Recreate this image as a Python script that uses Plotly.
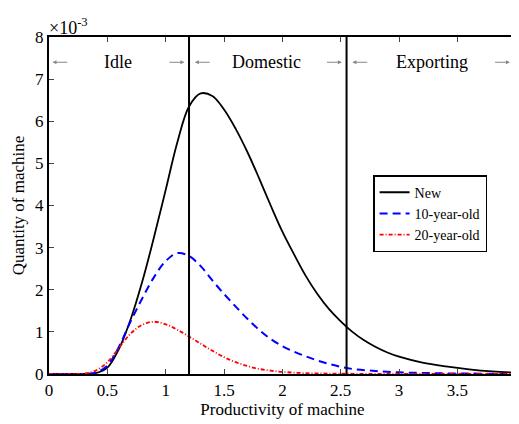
import plotly.graph_objects as go

# Productivity grid and densities (units of 1e-3)
x_new = [0, 0.2, 0.3, 0.4, 0.5, 0.6, 0.7, 0.8, 0.9, 1.0, 1.1, 1.2, 1.3, 1.4, 1.5, 1.6, 1.7, 1.8, 1.9,
         2.0, 2.1, 2.2, 2.3, 2.4, 2.5, 2.6, 2.7, 2.8, 2.9, 3.0, 3.2, 3.4, 3.6, 3.8, 4.0]
y_new = [0, 0, 0, 0.02, 0.15, 0.6, 1.3, 2.2, 3.25, 4.37, 5.5, 6.35, 6.66, 6.6, 6.28, 5.82, 5.27, 4.65, 4.0,
         3.38, 2.84, 2.33, 1.9, 1.54, 1.25, 1.0, 0.8, 0.64, 0.51, 0.41, 0.27, 0.18, 0.11, 0.06, 0.03]

x_10 = [0, 0.2, 0.3, 0.4, 0.5, 0.6, 0.7, 0.8, 0.9, 1.0, 1.1, 1.2, 1.3, 1.4, 1.5, 1.6, 1.7, 1.8, 1.9, 2.0,
        2.1, 2.2, 2.3, 2.4, 2.5, 2.6, 2.8, 3.0, 3.2, 3.4, 3.6, 3.8, 4.0]
y_10 = [0, 0, 0, 0.03, 0.2, 0.65, 1.25, 1.8, 2.3, 2.68, 2.87, 2.8, 2.56, 2.22, 1.9, 1.6, 1.31, 1.05, 0.83, 0.66,
        0.53, 0.42, 0.32, 0.24, 0.17, 0.12, 0.07, 0.04, 0.025, 0.015, 0.01, 0.005, 0]

x_20 = [0, 0.2, 0.3, 0.4, 0.5, 0.6, 0.7, 0.8, 0.9, 1.0, 1.1, 1.2, 1.3, 1.4, 1.5, 1.6, 1.7, 1.8, 1.9, 2.0,
        2.2, 2.4, 2.6, 2.8, 3.0, 3.5, 4.0]
y_20 = [0, 0, 0.01, 0.08, 0.28, 0.62, 0.96, 1.17, 1.24, 1.18, 1.05, 0.89, 0.72, 0.55, 0.4, 0.28, 0.19, 0.12, 0.08, 0.05,
        0.02, 0.01, 0.005, 0, 0, 0, 0]

thresholds = [1.2, 2.55]
regions = ["Idle", "Domestic", "Exporting"]
region_centers = [0.59, 1.865, 3.285]
arrow_left = [0.03, 1.25, 2.6]
arrow_right = [1.16, 2.51, 3.95]
label_y = 7.4

x_ticks = [0, 0.5, 1, 1.5, 2, 2.5, 3, 3.5, 4]
x_ticklabels = ["0", "0.5", "1", "1.5", "2", "2.5", "3", "3.5", "4"]
y_ticks = [0, 1, 2, 3, 4, 5, 6, 7, 8]

FONT = "Liberation Serif"

fig = go.Figure()
fig.add_trace(go.Scatter(x=x_new, y=y_new, mode="lines", name="New",
                         line=dict(color="black", width=1.8, shape="spline", smoothing=1)))
fig.add_trace(go.Scatter(x=x_10, y=y_10, mode="lines", name="10-year-old",
                         line=dict(color="blue", width=2, dash="8px,5px", shape="spline", smoothing=1)))
fig.add_trace(go.Scatter(x=x_20, y=y_20, mode="lines", name="20-year-old",
                         line=dict(color="red", width=1.8, dash="4px,2px,1px,2px", shape="spline", smoothing=1)))

for t in thresholds:
    fig.add_vline(x=t, line=dict(color="black", width=2))

anns = []
for name, c, l, r in zip(regions, region_centers, arrow_left, arrow_right):
    anns.append(dict(x=c, y=label_y, xref="x", yref="y", text=name, showarrow=False,
                     font=dict(family=FONT, size=18, color="black")))
    anns.append(dict(x=l, y=label_y, ax=l + 0.14, ay=label_y, xref="x", yref="y", axref="x", ayref="y",
                     text="", showarrow=True, arrowhead=2, arrowsize=0.8, arrowwidth=1, arrowcolor="#888888"))
    anns.append(dict(x=r, y=label_y, ax=r - 0.14, ay=label_y, xref="x", yref="y", axref="x", ayref="y",
                     text="", showarrow=True, arrowhead=2, arrowsize=0.8, arrowwidth=1, arrowcolor="#888888"))

anns.append(dict(x=0, y=1, xref="paper", yref="paper", xanchor="left", yanchor="bottom", yshift=-3, xshift=-2,
                 text="×10<sup>-3</sup>", showarrow=False, font=dict(family=FONT, size=18, color="black")))

# the page body has an 8px margin, so the figure is sized/offset to compensate
fig.update_layout(
    width=511, height=416,
    margin=dict(l=41, r=3, t=29, b=50),
    paper_bgcolor="white", plot_bgcolor="white",
    font=dict(family=FONT, size=16, color="black"),
    annotations=anns,
    showlegend=True,
    legend=dict(x=0.694, y=0.59, xanchor="left", yanchor="top",
                bgcolor="white", bordercolor="black", borderwidth=1.5,
                font=dict(family=FONT, size=14, color="black"),
                tracegroupgap=0, itemwidth=30),
    xaxis=dict(range=[0, 4.002], tickvals=x_ticks, ticktext=x_ticklabels, ticks="inside", ticklen=5,
               showline=True, linecolor="black", linewidth=2, mirror="ticks", showgrid=False, zeroline=False,
               automargin=False,
               title=dict(text="Productivity of machine", font=dict(family=FONT, size=17), standoff=4),
               tickfont=dict(family=FONT, size=17)),
    yaxis=dict(range=[0, 8], tickvals=y_ticks, ticks="inside", ticklen=5,
               showline=True, linecolor="black", linewidth=2, mirror="ticks", showgrid=False, zeroline=False,
               automargin=False,
               title=dict(text="Quantity of machine", font=dict(family=FONT, size=17), standoff=6),
               tickfont=dict(family=FONT, size=17)),
)

fig.write_html("out.html")
